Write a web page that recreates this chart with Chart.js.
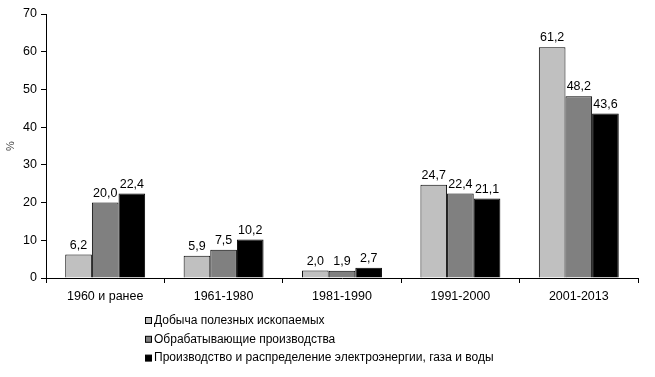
<!DOCTYPE html>
<html>
<head>
<meta charset="utf-8">
<script src="https://cdn.jsdelivr.net/npm/chart.js@4/dist/chart.umd.min.js"></script>
<style>
html,body{margin:0;padding:0;background:#fff;}
#wrap{position:relative;width:655px;height:377px;}
</style>
</head>
<body>
<div id="wrap"><canvas id="c" width="655" height="377"></canvas></div>
<script>
const categories = ["1960 и ранее", "1961-1980", "1981-1990", "1991-2000", "2001-2013"];
const seriesNames = ["Добыча полезных ископаемых", "Обрабатывающие производства", "Производство и распределение электроэнергии, газа и воды"];
const mining = [6.2, 5.9, 2.0, 24.7, 61.2];
const manufacturing = [20.0, 7.5, 1.9, 22.4, 48.2];
const utilities = [22.4, 10.2, 2.7, 21.1, 43.6];
const seriesColors = ["#c0c0c0", "#808080", "#000000"];
const yTicks = [0, 10, 20, 30, 40, 50, 60, 70];

const FONT = "Liberation Sans, Arial, sans-serif";

const valueLabels = {
  id: "valueLabels",
  afterDatasetsDraw(chart) {
    const ctx = chart.ctx;
    ctx.save();
    ctx.font = "12.5px " + FONT;
    ctx.fillStyle = "#000";
    ctx.textAlign = "center";
    ctx.textBaseline = "bottom";
    chart.data.datasets.forEach((ds, i) => {
      chart.getDatasetMeta(i).data.forEach((bar, j) => {
        ctx.fillText(ds.data[j].toFixed(1).replace(".", ","), bar.x, bar.y - 3);
      });
    });
    ctx.restore();
  }
};

const customLegend = {
  id: "customLegend",
  afterDraw(chart) {
    const ctx = chart.ctx;
    ctx.save();
    ctx.font = "12px " + FONT;
    ctx.textBaseline = "middle";
    ctx.textAlign = "left";
    const x0 = 145, y0 = 320.5, dy = 18.8, sq = 7;
    chart.data.datasets.forEach((ds, i) => {
      const y = y0 + i * dy;
      ctx.fillStyle = ds.backgroundColor;
      ctx.fillRect(x0 + 0.5, y - sq / 2 + 0.5, sq - 1, sq - 1);
      ctx.strokeStyle = "#000";
      ctx.lineWidth = 1;
      ctx.strokeRect(x0 + 0.5, y - sq / 2 + 0.5, sq - 1, sq - 1);
      ctx.fillStyle = "#000";
      ctx.fillText(ds.label, x0 + sq + 2, y);
    });
    ctx.restore();
  }
};

const dataSeries = [mining, manufacturing, utilities];

new Chart(document.getElementById("c"), {
  type: "bar",
  data: {
    labels: categories,
    datasets: dataSeries.map((d, i) => ({
      label: seriesNames[i],
      data: d,
      backgroundColor: seriesColors[i],
      borderColor: "#000",
      borderWidth: 1,
      borderSkipped: "bottom",
      categoryPercentage: 0.675,
      barPercentage: 1.0
    }))
  },
  options: {
    responsive: false,
    animation: false,
    devicePixelRatio: 1,
    layout: { padding: { left: 0, right: 17, top: 14, bottom: 0 } },
    plugins: { legend: { display: false }, tooltip: { enabled: false } },
    scales: {
      x: {
        afterFit(scale) { scale.height = 99; },
        grid: { display: true, offset: true, drawOnChartArea: false, drawTicks: true, tickLength: 5, color: "#000", lineWidth: 1 },
        border: { display: true, color: "#000", width: 1 },
        ticks: { color: "#000", font: { family: FONT, size: 12.5 }, padding: 6, maxRotation: 0 }
      },
      y: {
        min: 0, max: 70,
        afterFit(scale) { scale.width = 46; },
        afterBuildTicks(scale) { scale.ticks = yTicks.map(v => ({ value: v })); },
        grid: { display: true, drawOnChartArea: false, drawTicks: true, tickLength: 5, color: "#000", lineWidth: 1 },
        border: { display: true, color: "#000", width: 1 },
        ticks: { color: "#000", font: { family: FONT, size: 12.5 }, padding: 4 },
        title: { display: true, text: "%", color: "#444", font: { family: FONT, size: 11 }, padding: { top: 4, bottom: 0 } }
      }
    }
  },
  plugins: [valueLabels, customLegend]
});
</script>
</body>
</html>
